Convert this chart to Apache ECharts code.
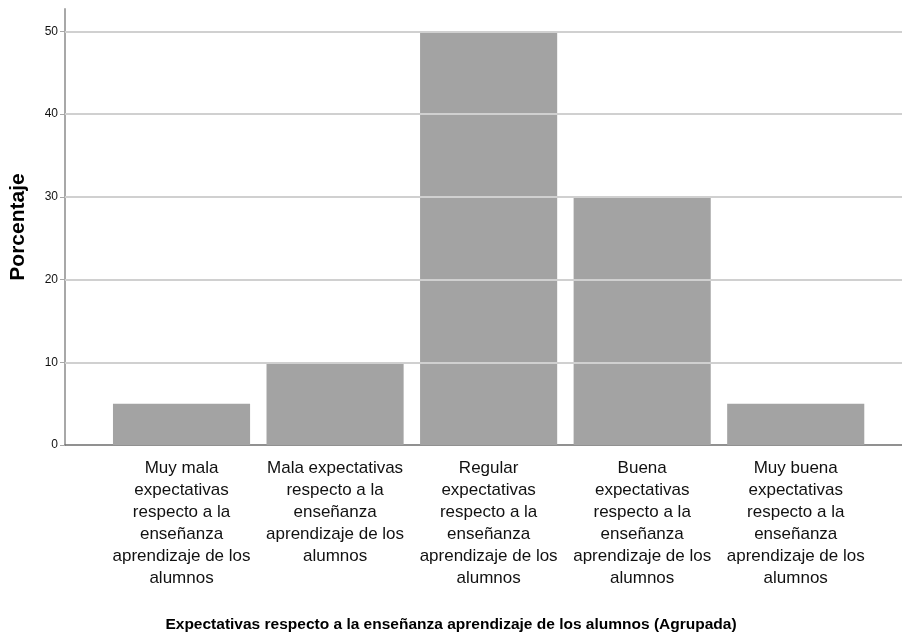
<!DOCTYPE html>
<html><head><meta charset="utf-8">
<script src="https://cdn.jsdelivr.net/npm/echarts@6/dist/echarts.min.js"></script>
<style>html,body{margin:0;padding:0;background:#fff}#c{width:902px;height:635px}</style>
</head><body><div id="c"></div>
<script>
const categories = [
  "Muy mala\nexpectativas\nrespecto a la\nenseñanza\naprendizaje de los\nalumnos",
  "Mala expectativas\nrespecto a la\nenseñanza\naprendizaje de los\nalumnos",
  "Regular\nexpectativas\nrespecto a la\nenseñanza\naprendizaje de los\nalumnos",
  "Buena\nexpectativas\nrespecto a la\nenseñanza\naprendizaje de los\nalumnos",
  "Muy buena\nexpectativas\nrespecto a la\nenseñanza\naprendizaje de los\nalumnos"
];
const values = [5, 10, 50, 30, 5];
const yTicks = [0, 10, 20, 30, 40, 50];
const yMax = 52.7;
const xTitle = "Expectativas respecto a la enseñanza aprendizaje de los alumnos (Agrupada)";
const yTitle = "Porcentaje";

const sans = "'Liberation Sans', Arial, sans-serif";
const chart = echarts.init(document.getElementById('c'), null, {renderer: 'canvas'});
chart.setOption({
  animation: false,
  backgroundColor: '#ffffff',
  title: {
    text: xTitle, left: 'center', top: 612,
    textStyle: {fontFamily: sans, fontSize: 15.5, fontWeight: 'bold', color: '#000'}
  },
  grid: [
    {left: 104.75, right: 29.5, top: 9, bottom: 190},
    {left: 62, right: 0, top: 9, bottom: 190}
  ],
  xAxis: [
    {
      type: 'category', gridIndex: 0, data: categories,
      axisLine: {show: false}, axisTick: {show: false},
      axisLabel: {interval: 0, margin: 12, fontFamily: sans, fontSize: 17, lineHeight: 22, color: '#111', align: 'center'}
    },
    {
      type: 'value', gridIndex: 1, min: 0, max: 1,
      axisLine: {show: true, onZero: false, lineStyle: {color: '#6e6e6e', width: 1.5}},
      axisTick: {show: false}, axisLabel: {show: false}, splitLine: {show: false}
    }
  ],
  yAxis: [
    {type: 'value', gridIndex: 0, min: 0, max: yMax, show: false, splitLine: {show: false}},
    {
      type: 'value', gridIndex: 1, min: 0, max: yMax, interval: 10,
      name: yTitle, nameLocation: 'middle', nameGap: 36, nameRotate: 90,
      nameTextStyle: {fontFamily: sans, fontSize: 21, fontWeight: 'bold', color: '#000'},
      axisLine: {show: true, onZero: false, lineStyle: {color: '#a8a8a8', width: 2}},
      axisTick: {show: true, length: 5, lineStyle: {color: '#a8a8a8', width: 1}},
      axisLabel: {showMaxLabel: false, margin: 7, fontFamily: sans, fontSize: 12, color: '#111'},
      splitLine: {show: false}
    }
  ],
  series: [
    {
      type: 'line', xAxisIndex: 1, yAxisIndex: 1, data: [], z: 1, silent: true,
      markLine: {
        silent: true, symbol: 'none', label: {show: false},
        lineStyle: {type: 'solid', color: '#d0d0d0', width: 2},
        data: yTicks.filter(v => v > 0).map(v => ({yAxis: v}))
      }
    },
    {
      type: 'bar', xAxisIndex: 0, yAxisIndex: 0, data: values, z: 3,
      barCategoryGap: '10.7%',
      itemStyle: {color: '#a3a3a3'}
    }
  ]
});
</script>
</body></html>
